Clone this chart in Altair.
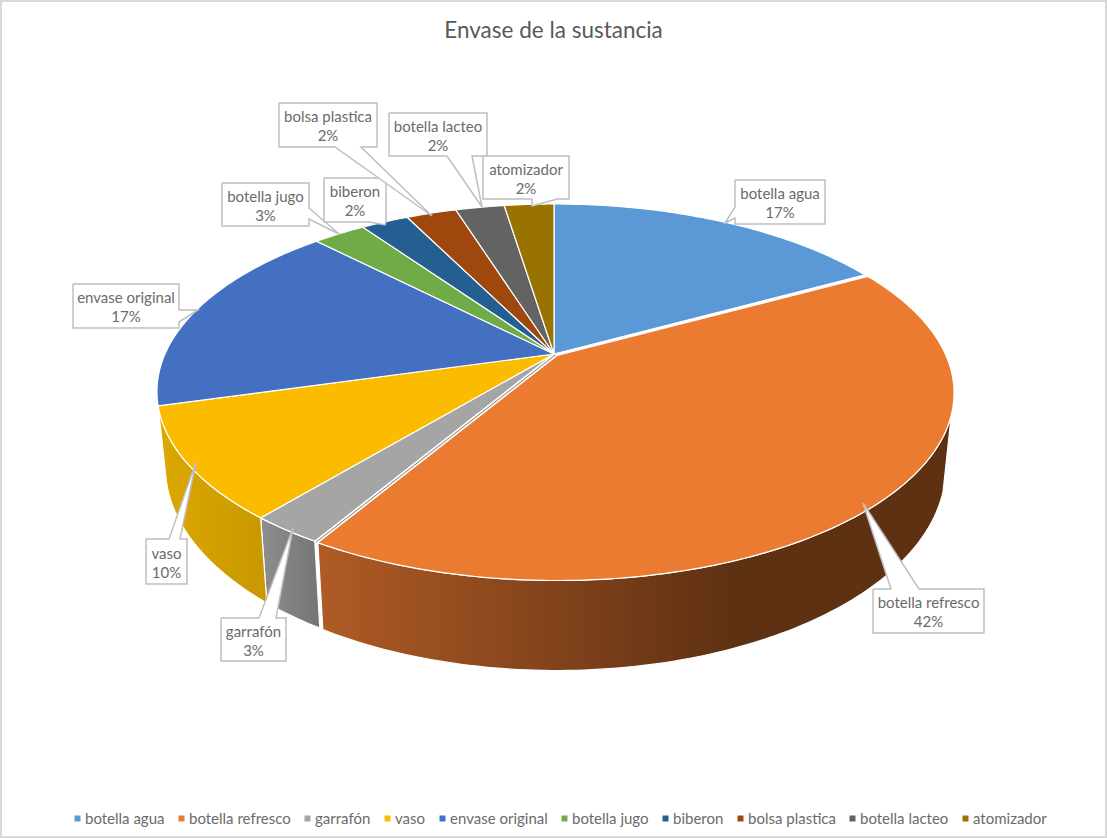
import math
import altair as alt
import pandas as pd

W, H = 1107, 839
FONT = "Lato"
TEXT = "#6b6b6b"
BORDER = "#bfbfbf"

# Substance containers and their share of the total, in percent
names = ["botella agua", "botella refresco", "garrafón", "vaso", "envase original",
         "botella jugo", "biberon", "bolsa plastica", "botella lacteo", "atomizador"]
shares = [17.0, 41.5, 2.51, 9.6, 17.1, 2.6, 2.35, 2.48, 2.41, 2.45]
colors = ["#5a98d6", "#ea7b30", "#a5a5a5", "#fbbc00", "#4370c0",
          "#6fab46", "#255e91", "#9e480e", "#636363", "#997300"]

# Label boxes (left, top, right, bottom) and the pointer of each one:
# the side it leaves from, where it leaves and the point it reaches
label_boxes = [(735, 180, 825, 224), (873, 589, 984, 633), (221, 618, 286, 661),
               (146, 539, 187, 584), (73, 284, 179, 328), (222, 183, 309, 226),
               (324, 178, 386, 222), (279, 103, 377, 147), (389, 113, 487, 156),
               (483, 156, 569, 199)]
label_pointers = [("left", 207, 218, 725, 223), ("top", 891, 919, 863, 503),
                  ("top", 259, 276, 293, 528), ("top", 169, 180, 196, 462),
                  ("right", 310, 322, 198, 310), ("right", 208, 219, 339, 234),
                  ("bottom", 370, 386, 385, 225), ("bottom", 335, 361, 432, 216),
                  ("bottom", 447, 472, 482, 207), ("bottom", 532, 557, 532, 206)]

# Perspective of the disc on the page
CX, CY, RX, RY, TILT = 554, 354, 389, 180, 0.2
RIM_X, RIM_Y, RIM_DROP = 0.979, 1.08, 72
STEP = 1.0


def top_point(theta):
    u, v = math.sin(theta), math.cos(theta)
    w = 1 + TILT * v
    return CX + RX * u / w, CY - RY * v / w


def rim_point(theta):
    x, y = top_point(theta)
    return CX + RIM_X * (x - CX), CY + RIM_DROP + RIM_Y * (y - CY)


def sweep(a, b):
    n = max(2, int(abs(b - a) / STEP) + 1)
    return [math.radians(a + (b - a) * k / n) for k in range(n + 1)]


cum = [0]
for s in shares:
    cum.append(cum[-1] + s)
angles = [c * 3.6 for c in cum]

# Top faces; the refresco slice is pulled slightly out of the pie
PULL = (3, 1.5)
faces = []
for k, name in enumerate(names):
    dx, dy = PULL if name == "botella refresco" else (0, 0)
    pts = [(CX, CY)] + [top_point(t) for t in sweep(angles[k], angles[k + 1])] + [(CX, CY)]
    for i, (x, y) in enumerate(pts):
        faces.append({"name": name, "i": i, "x": x + dx, "y": y + dy})
faces = pd.DataFrame(faces)


def wall_frame(a, b, dx=0, dy=0):
    ts = sweep(a, b)
    pts = [top_point(t) for t in ts] + [rim_point(t) for t in reversed(ts)]
    pts.append(pts[0])
    return pd.DataFrame([{"i": i, "x": x + dx, "y": y + dy} for i, (x, y) in enumerate(pts)])


x_scale = alt.Scale(domain=[0, W], range=[0, W])
y_scale = alt.Scale(domain=[0, H], range=[0, H])
X = alt.X("x:Q", scale=x_scale, axis=None)
Y = alt.Y("y:Q", scale=y_scale, axis=None)


def gradient(stops):
    return alt.Gradient(gradient="linear", x1=0, y1=0, x2=1, y2=0,
                        stops=[alt.GradientStop(offset=o, color=c) for o, c in stops])


def wall(frame, stops):
    return alt.Chart(frame).mark_line(fill=gradient(stops), stroke="white", strokeWidth=1.2,
                                      interpolate="linear").encode(x=X, y=Y, order="i:Q")


walls = [
    wall(wall_frame(108, angles[2], *PULL),
         [(0, "#b05b25"), (0.65, "#5f3113"), (1, "#5f3113")]),
    wall(wall_frame(angles[2], angles[3]), [(0, "#8e8e8e"), (1, "#747474")]),
    wall(wall_frame(angles[3], angles[4]), [(0, "#dca800"), (1, "#c89800")]),
]

top = alt.Chart(faces).mark_line(filled=True, stroke="white", strokeWidth=1.2).encode(
    x=X, y=Y, order="i:Q",
    color=alt.Color(
        "name:N",
        scale=alt.Scale(domain=names, range=colors),
        sort=names,
        legend=alt.Legend(
            title=None, orient="none", legendX=70, legendY=811, columns=10,
            direction="horizontal", gridAlign="none", columnPadding=9,
            symbolType="square", symbolSize=36, symbolStrokeWidth=0,
            labelFont=FONT, labelFontSize=15, labelColor=TEXT, labelOffset=0,
        ),
    ),
)

# Cut face of the garrafón slice, seen in the gap left by the pulled slice
cut_end = top_point(math.radians(angles[2]))
cut_rows = pd.DataFrame([
    {"i": 0, "x": CX + PULL[0] / 2, "y": CY + PULL[1] / 2},
    {"i": 1, "x": cut_end[0] + PULL[0] / 2, "y": cut_end[1] + PULL[1] / 2},
])
cut = alt.Chart(cut_rows).mark_line(stroke="#7a7a7a", strokeWidth=1).encode(x=X, y=Y, order="i:Q")

# Callouts: a box outline with its pointer spliced into the side it leaves from
callouts = []
for name, (l, t, r, b), (side, p, q, tx, ty) in zip(names, label_boxes, label_pointers):
    edge = {
        "top": [(l, t), (p, t), (tx, ty), (q, t), (r, t), (r, b), (l, b)],
        "right": [(l, t), (r, t), (r, p), (tx, ty), (r, q), (r, b), (l, b)],
        "bottom": [(l, t), (r, t), (r, b), (q, b), (tx, ty), (p, b), (l, b)],
        "left": [(l, t), (r, t), (r, b), (l, b), (l, q), (tx, ty), (l, p)],
    }[side]
    edge.append(edge[0])
    for i, (x, y) in enumerate(edge):
        callouts.append({"name": name, "i": i, "x": x, "y": y})
callouts = pd.DataFrame(callouts)

boxes = alt.Chart(callouts).mark_line(fill="white", stroke=BORDER, strokeWidth=1.5).encode(
    x=X, y=Y, order="i:Q", detail="name:N")

label_rows = pd.DataFrame([
    {"x": (bx[0] + bx[2]) / 2, "y": (bx[1] + bx[3]) / 2, "text": f"{n}\n{round(s)}%"}
    for n, s, bx in zip(names, shares, label_boxes)
])
labels = alt.Chart(label_rows).mark_text(
    font=FONT, fontSize=15, color=TEXT, lineBreak="\n", lineHeight=19, align="center",
    baseline="middle", dy=-8
).encode(x=X, y=Y, text="text:N")

frame_rows = pd.DataFrame({"x": [1], "x2": [W - 1], "y": [1], "y2": [H - 2]})
frame = alt.Chart(frame_rows).mark_rect(fill="white", stroke="#d9d9d9", strokeWidth=2).encode(
    x=X, x2="x2:Q", y=Y, y2="y2:Q")

chart = alt.layer(frame, *walls, top, cut, boxes, labels).properties(
    width=W, height=H, padding=0, background="white",
    title=alt.TitleParams("Envase de la sustancia", font=FONT, fontSize=22.5, fontWeight="normal",
                          color="#595959", anchor="middle", dy=42, offset=0),
).configure_view(stroke=None).resolve_scale(color="independent")

chart.save("out.html", embed_options={"renderer": "svg", "actions": False})
